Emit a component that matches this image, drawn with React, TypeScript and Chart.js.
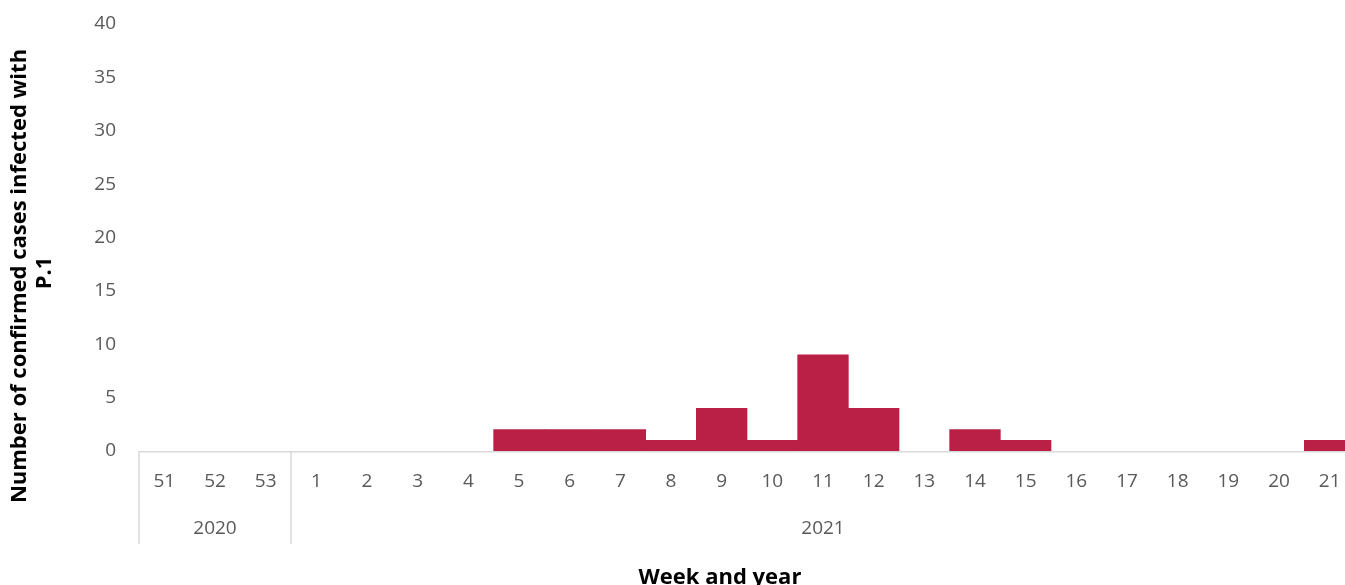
import React, { useEffect, useRef } from "react";
import { Chart, registerables } from "chart.js";

Chart.register(...registerables);

const weeks = ["51", "52", "53", "1", "2", "3", "4", "5", "6", "7", "8", "9", "10", "11", "12", "13", "14", "15", "16", "17", "18", "19", "20", "21"];
const years = ["2020", "2020", "2020", "2021", "2021", "2021", "2021", "2021", "2021", "2021", "2021", "2021", "2021", "2021", "2021", "2021", "2021", "2021", "2021", "2021", "2021", "2021", "2021", "2021"];
const cases = [0, 0, 0, 0, 0, 0, 0, 2, 2, 2, 1, 4, 1, 9, 4, 0, 2, 1, 0, 0, 0, 0, 0, 1];
const yTicks = [0, 5, 10, 15, 20, 25, 30, 35, 40];

const yTitleLines = ["Number of confirmed cases infected with", "P.1"];
const xTitle = "Week and year";

const FONT = "'Open Sans', 'DejaVu Sans', sans-serif";
const BAR = "#BA2045";
const AXIS = "#D9D9D9";
const TXT = "#595959";
const TICK_SIZE = 19;

const annotate = {
  id: "annotate",
  afterDatasetsDraw(chart: any) {
    const { ctx, chartArea } = chart;
    ctx.save();
    ctx.strokeStyle = AXIS;
    ctx.lineWidth = 1.5;
    ctx.beginPath();
    ctx.moveTo(chartArea.left, chartArea.bottom + 0.75);
    ctx.lineTo(chartArea.right, chartArea.bottom + 0.75);
    ctx.stroke();
    ctx.restore();
  },
  afterDraw(chart: any) {
    const { ctx, chartArea, scales } = chart;
    const x = scales.x;
    const bottom = chartArea.bottom;
    ctx.save();
    const groups: { label: string; start: number; end: number }[] = [];
    years.forEach((y, i) => {
      const g = groups[groups.length - 1];
      if (g && g.label === y) g.end = i;
      else groups.push({ label: y, start: i, end: i });
    });
    const half = (x.getPixelForValue(1) - x.getPixelForValue(0)) / 2;
    ctx.strokeStyle = AXIS;
    ctx.lineWidth = 1.5;
    groups.forEach((g) => {
      const left = x.getPixelForValue(g.start) - half;
      const right = x.getPixelForValue(g.end) + half;
      ctx.beginPath();
      ctx.moveTo(left, bottom);
      ctx.lineTo(left, bottom + 93);
      ctx.stroke();
      ctx.fillStyle = TXT;
      ctx.font = `${TICK_SIZE}px ${FONT}`;
      ctx.textAlign = "center";
      ctx.textBaseline = "middle";
      ctx.fillText(g.label, (left + right) / 2, bottom + 78);
    });
    ctx.fillStyle = "#000";
    ctx.font = `bold 22px ${FONT}`;
    ctx.textAlign = "center";
    ctx.textBaseline = "middle";
    ctx.fillText(xTitle, 720, 578);
    ctx.save();
    ctx.translate(20, 276);
    ctx.rotate(-Math.PI / 2);
    ctx.fillText(yTitleLines[0], 0, 0);
    ctx.restore();
    ctx.save();
    ctx.translate(45, 273);
    ctx.rotate(-Math.PI / 2);
    ctx.fillText(yTitleLines[1], 0, 0);
    ctx.restore();
    ctx.restore();
  },
};

export default function App() {
  const ref = useRef<HTMLCanvasElement>(null);
  useEffect(() => {
    const canvas = ref.current!;
    const chart = new Chart(canvas, {
      type: "bar",
      data: {
        labels: weeks,
        datasets: [
          {
            data: cases,
            backgroundColor: (c: any) => (c.raw ? BAR : "rgba(0,0,0,0)"),
            borderWidth: 0,
            categoryPercentage: 1,
            barPercentage: 1,
          },
        ],
      },
      plugins: [annotate],
      options: {
        responsive: false,
        animation: false,
        devicePixelRatio: 1,
        layout: { padding: { top: 24, right: 0, left: 0, bottom: 0 } },
        plugins: { legend: { display: false }, tooltip: { enabled: false } },
        scales: {
          x: {
            grid: { display: false, drawTicks: false },
            border: { display: false },
            ticks: {
              color: TXT,
              font: { family: FONT, size: TICK_SIZE },
              padding: 19,
              maxRotation: 0,
              autoSkip: false,
            },
            afterFit(s: any) {
              s.height = 134;
              s.paddingLeft = 0;
              s.paddingRight = 0;
            },
          },
          y: {
            min: 0,
            max: 40,
            afterBuildTicks(s: any) {
              s.ticks = yTicks.map((v) => ({ value: v }));
            },
            grid: { display: false, drawTicks: false },
            border: { display: false },
            ticks: {
              color: TXT,
              font: { family: FONT, size: TICK_SIZE },
              padding: 23,
            },
            afterFit(s: any) {
              s.width = 139;
              s.paddingTop = 0;
              s.paddingBottom = 0;
            },
          },
        },
      },
    });
    return () => chart.destroy();
  }, []);
  return (
    <div style={{ position: "fixed", left: 0, top: 0, width: 1345, height: 585, overflow: "hidden", background: "#fff" }}>
      <canvas ref={ref} width={1355} height={585} style={{ display: "block" }} />
    </div>
  );
}
